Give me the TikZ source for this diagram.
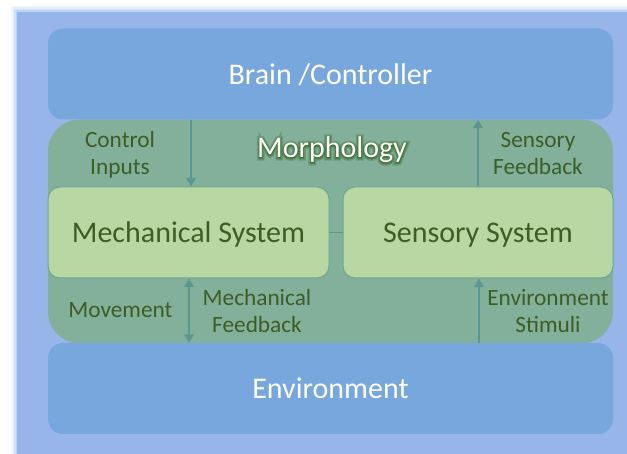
\documentclass[tikz,border=0pt]{standalone}
\usepackage{fontspec}
\setmainfont{Carlito}
% emboldened cuts used for the glow behind the layer title
\newfontfamily\glowwide[FakeBold=18]{Carlito}
\newfontfamily\glownarrow[FakeBold=9]{Carlito}
\usetikzlibrary{arrows.meta}

\definecolor{bgblue}{HTML}{98B5E9}
\definecolor{glowblue}{HTML}{9EBFF6}
\definecolor{boxblue}{HTML}{78A7DD}
\definecolor{morphgreen}{HTML}{82B09A}
\definecolor{sysgreen}{HTML}{B8D7A3}
\definecolor{sysedge}{HTML}{6EA696}
\definecolor{arrowteal}{HTML}{5B9791}
\definecolor{labelgreen}{HTML}{3D5D25}
\definecolor{halo}{HTML}{3A6A2C}

\begin{document}
\begin{tikzpicture}[x=1pt,y=-1pt,
  bigtext/.style={font=\fontsize{30}{36}\selectfont, text height=21pt, text depth=0pt},
  layerbox/.style={bigtext, rounded corners=15pt, fill=boxblue, text=white,
    minimum width=565pt, minimum height=91pt, inner sep=0pt},
  morphbox/.style={rounded corners=32pt, fill=morphgreen, inner sep=0pt,
    minimum width=565pt, minimum height=224pt},
  sysbox/.style={bigtext, rounded corners=12pt, fill=sysgreen, draw=sysedge,
    line width=1pt, text=labelgreen, minimum height=91pt, inner sep=0pt},
  lbl/.style={font=\fontsize{23.3}{27.5}\selectfont, text=labelgreen,
    align=center, inner sep=0pt, anchor=base},
  titlefont/.style={anchor=base, inner sep=0pt},
  flow/.style={draw=arrowteal, line width=2.4pt,
    -{Triangle[width=9.5pt,length=8.5pt]}},
  biflow/.style={draw=arrowteal, line width=2.4pt,
    {Triangle[width=9.5pt,length=8.5pt]}-{Triangle[width=9.5pt,length=8.5pt]}},
  link/.style={draw=arrowteal, line width=1.6pt}
]
\useasboundingbox (0,0) rectangle (627,454);

% soft halo round the backdrop
\foreach \g/\o in {6/0.12,4.5/0.18,3/0.25,1.5/0.35}{
  \fill[glowblue, opacity=\o] (17-\g,12-\g) rectangle (640,470);
}
\fill[bgblue] (17,12) rectangle (640,470);

% morphology layer sits behind the two blue layers
\node[morphbox] (morph) at (330.5,231.5) {};

% controller and environment layers
\node[layerbox] (brain) at (330.5,74) {Brain /Controller};
\node[layerbox] (env)   at (330.5,388.5) {Environment};

% the two subsystems
\node[sysbox, minimum width=281pt] (mech) at (188.5,232.5) {Mechanical System};
\node[sysbox, minimum width=270pt] (sens) at (478,232.5) {Sensory System};
\draw[link] (mech.east) -- (sens.west);

% layer title with a dark glow
\coordinate (mtitle) at (332,158);
\node[titlefont, text=halo, opacity=0.3,
  font=\glowwide\fontsize{30}{36}\selectfont] (mglow1) at (mtitle) {Morphology};
\node[titlefont, text=halo, opacity=0.55,
  font=\glownarrow\fontsize{30}{36}\selectfont] (mglow2) at (mtitle) {Morphology};
\node[titlefont, text=white, font=\fontsize{30}{36}\selectfont]
  (mlabel) at (mtitle) {Morphology};

% signal paths
\coordinate (xc) at (191,0);
\coordinate (xs) at (478,0);
\coordinate (xm) at (189,0);
\coordinate (xe) at (479,0);
\draw[flow]   (brain.south -| xc) -- (mech.north -| xc);
\draw[flow]   (sens.north -| xs)  -- (brain.south -| xs);
\draw[biflow] (mech.south -| xm)  -- (env.north -| xm);
\draw[flow]   (env.north -| xe)   -- (sens.south -| xe);

% path labels (anchored on the baseline of their last line)
\node[lbl] (lci) at (120,175) {Control\\Inputs};
\node[lbl] (lsf) at (538,175) {Sensory\\Feedback};
\node[lbl] (lmv) at (120.5,318) {Movement};
\node[lbl] (lmf) at (257,333) {Mechanical\\Feedback};
\node[lbl] (les) at (548,333) {Environment\\Stimuli};
\end{tikzpicture}
\end{document}
